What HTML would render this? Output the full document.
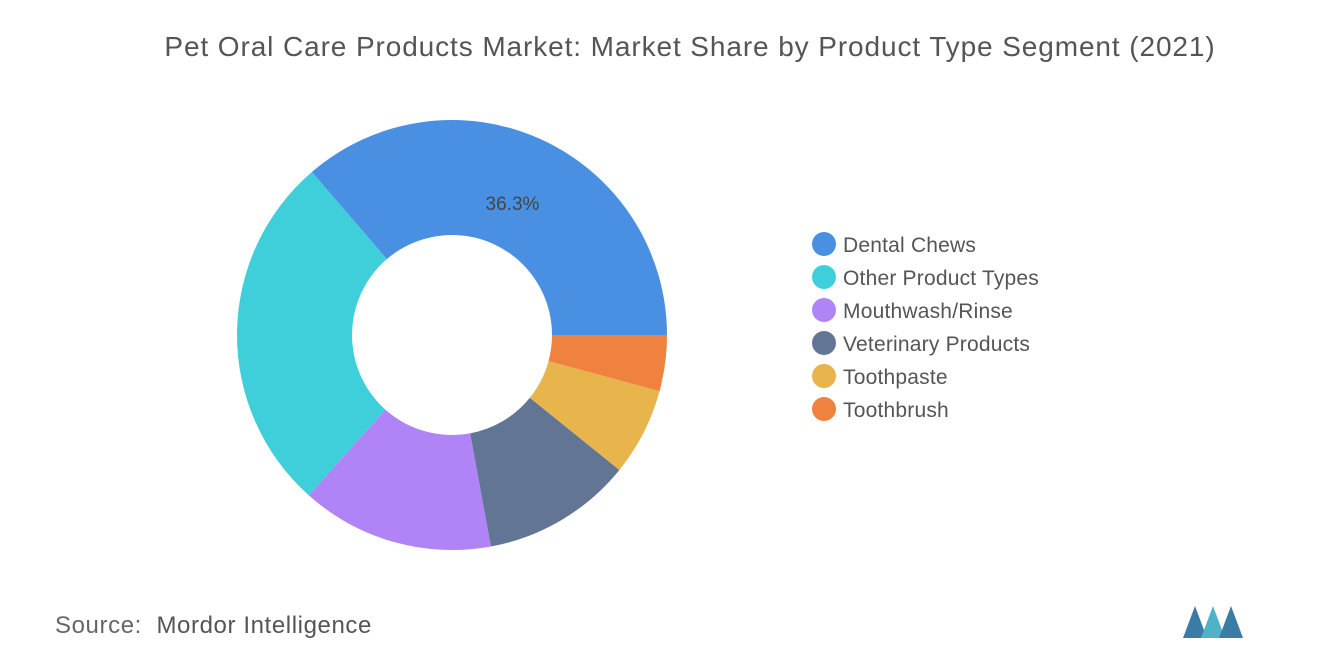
<!DOCTYPE html>
<html><head><meta charset="utf-8"><style>
body{margin:0;background:#fff;font-family:"Liberation Sans",sans-serif;}
#wrap{position:relative;width:1320px;height:665px;overflow:hidden;}
.title{position:absolute;left:0;width:1380px;top:31px;text-align:center;font-size:28px;letter-spacing:0.9px;color:#555;}
.leg{position:absolute;left:812px;font-size:21px;letter-spacing:0.2px;color:#555;}
.leg span.dot{display:inline-block;width:24px;height:24px;border-radius:50%;vertical-align:middle;margin-right:7px;position:relative;top:-2px;}
.src{position:absolute;left:55px;top:612px;font-size:24px;letter-spacing:0.6px;color:#555;}
</style></head><body>
<div id="wrap">
<div class="title">Pet Oral Care Products Market: Market Share by Product Type Segment (2021)</div>
<svg id="svg" width="1320" height="665" style="position:absolute;left:0;top:0"></svg>
<div id="legend"></div>
<div class="src"><span style="color:#666">Source:</span>&nbsp; Mordor Intelligence</div>
<svg width="70" height="40" style="position:absolute;left:1183px;top:602px">
<polygon points="0,36 12,4 24,36" fill="#3a7ca5"/><polygon points="18,36 30,4 42,36" fill="#4fb3c8"/><polygon points="36,36 48,4 60,36" fill="#3a7ca5"/></svg>
</div>
<script>
const categories=["Dental Chews","Other Product Types","Mouthwash/Rinse","Veterinary Products","Toothpaste","Toothbrush"];
const shares=[36.3,27.1,14.5,11.3,6.6,4.2];
const colors=["#4a90e2","#3ecfdb","#b083f7","#637594","#e8b44c","#f0823f"];
const shownLabels=["36.3%","","","","",""];
const cx=452,cy=335,R=215,r=100;
const svg=document.getElementById('svg');
const NS="http://www.w3.org/2000/svg";
const total=shares.reduce((a,b)=>a+b,0);
let a0=0;
function pt(rad,ang){return [cx+rad*Math.cos(ang),cy-rad*Math.sin(ang)];}
shares.forEach((v,i)=>{
  const a1=a0+v/total*2*Math.PI;
  const large=(a1-a0)>Math.PI?1:0;
  const p1=pt(R,a0),p2=pt(R,a1),p3=pt(r,a1),p4=pt(r,a0);
  const p=document.createElementNS(NS,'path');
  p.setAttribute('d',`M${p1[0]},${p1[1]} A${R},${R} 0 ${large} 0 ${p2[0]},${p2[1]} L${p3[0]},${p3[1]} A${r},${r} 0 ${large} 1 ${p4[0]},${p4[1]} Z`);
  p.setAttribute('fill',colors[i]);
  
  
  svg.appendChild(p);
  if(shownLabels[i]){
    const m=(a0+a1)/2;const lp=pt(145,m);
    const t=document.createElementNS(NS,'text');
    t.setAttribute('x',lp[0]);t.setAttribute('y',lp[1]+7);
    t.setAttribute('text-anchor','middle');t.setAttribute('font-size','19');t.setAttribute('fill','#444');
    t.setAttribute('font-family','Liberation Sans, sans-serif');
    t.textContent=shownLabels[i];
    
    
    svg.appendChild(t);
  }
  a0=a1;
});
const lg=document.getElementById('legend');
categories.forEach((c,i)=>{
  const d=document.createElement('div');
  d.className='leg';d.style.top=(234+i*33)+'px';
  d.innerHTML='<span class="dot" style="background:'+colors[i]+'"></span>'+c;
  
  
  lg.appendChild(d);
});
</script>
</body></html>
